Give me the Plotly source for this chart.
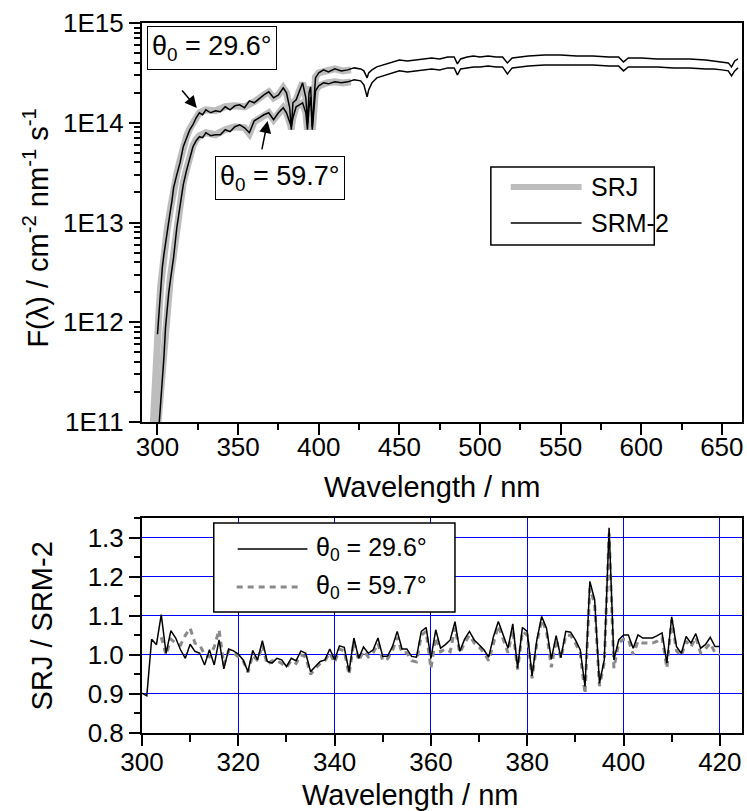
import numpy as np
import plotly.graph_objects as go

# ---- top panel: spectral irradiance as log10(F) ----
wl = [300, 301, 302, 303, 304, 305, 306, 307, 308, 309, 310, 312, 314, 316, 318, 320,
      322, 324, 326, 328, 330, 333, 336, 339, 342, 345, 348, 351, 354, 357, 360, 363,
      366, 369, 372, 375, 378, 380, 382, 383, 384, 386, 388, 390, 392, 393, 394, 395,
      396, 397, 398, 400, 403, 406, 410, 414, 418, 422, 426, 428, 430, 431, 433, 436,
      440, 445, 450, 455, 460, 465, 470, 475, 480, 484, 486, 488, 492, 496, 500, 505,
      510, 514, 517, 520, 525, 530, 540, 550, 560, 570, 580, 586, 589, 592, 600, 610,
      620, 630, 640, 645, 650, 654, 656, 658, 660]

srm2_296_log = [11.88, 12.10, 12.35, 12.55, 12.68, 12.80, 12.92, 13.02, 13.12, 13.22, 13.35,
                13.48, 13.60, 13.76, 13.85, 13.93, 13.98, 14.05, 14.10, 14.08, 14.13, 14.10,
                14.12, 14.11, 14.16, 14.13, 14.17, 14.18, 14.15, 14.22, 14.20, 14.24, 14.28,
                14.31, 14.25, 14.28, 14.35, 14.30, 14.15, 13.93, 14.20, 14.23, 14.32, 14.40,
                14.25, 14.00, 14.30, 14.36, 13.96, 14.20, 14.45, 14.50, 14.53, 14.51, 14.54,
                14.52, 14.53, 14.55, 14.54, 14.52, 14.45, 14.50, 14.53, 14.56, 14.58, 14.60,
                14.63, 14.62, 14.63, 14.64, 14.65, 14.64, 14.66, 14.66, 14.59, 14.64, 14.66,
                14.67, 14.66, 14.67, 14.66, 14.66, 14.60, 14.65, 14.66, 14.67, 14.68, 14.68,
                14.67, 14.67, 14.66, 14.66, 14.61, 14.65, 14.65, 14.64, 14.64, 14.64, 14.63,
                14.62, 14.61, 14.60, 14.56, 14.62, 14.64]

srm2_597_log = [10.75, 10.98, 11.20, 11.38, 11.65, 11.95, 12.15, 12.30, 12.42, 12.53, 12.65,
                12.95, 13.15, 13.38, 13.52, 13.65, 13.76, 13.82, 13.86, 13.85, 13.90, 13.87,
                13.88, 13.88, 13.93, 13.91, 13.96, 13.98, 13.95, 13.90, 14.02, 14.05, 14.08,
                14.10, 14.03, 14.10, 14.15, 14.10, 14.00, 13.96, 14.05, 14.16, 14.18, 14.20,
                14.10, 13.93, 14.15, 14.26, 13.93, 14.10, 14.32, 14.37, 14.40, 14.39, 14.41,
                14.40, 14.41, 14.43, 14.42, 14.38, 14.26, 14.33, 14.40, 14.45, 14.47, 14.49,
                14.52, 14.51, 14.52, 14.53, 14.54, 14.53, 14.55, 14.55, 14.48, 14.54, 14.55,
                14.56, 14.56, 14.57, 14.56, 14.56, 14.49, 14.55, 14.56, 14.57, 14.58, 14.58,
                14.58, 14.58, 14.57, 14.57, 14.52, 14.56, 14.56, 14.56, 14.55, 14.55, 14.54,
                14.54, 14.53, 14.52, 14.47, 14.52, 14.55]

wl_srj_296 = [297, 298, 299, 300, 301, 302, 304, 306, 308, 310, 312, 314, 316, 318, 320,
              322, 324, 326, 330, 336, 342, 348, 354, 360, 366, 369, 372, 375, 378, 380,
              382, 383, 384, 386, 388, 390, 392, 393, 394, 395, 396, 397, 398, 400, 405,
              410, 415, 420]
srj_296_log = [10.85, 11.25, 11.60, 11.90, 12.12, 12.36, 12.70, 12.93, 13.13, 13.36, 13.49,
               13.62, 13.77, 13.86, 13.94, 13.99, 14.06, 14.10, 14.13, 14.12, 14.16, 14.17,
               14.16, 14.21, 14.28, 14.31, 14.25, 14.28, 14.35, 14.30, 14.15, 13.93, 14.20,
               14.23, 14.32, 14.40, 14.25, 13.98, 14.30, 14.36, 13.93, 14.20, 14.46, 14.50,
               14.52, 14.54, 14.52, 14.53]

wl_srj_597 = [298, 299, 300, 301, 302, 303, 304, 306, 308, 310, 312, 314, 316, 318, 320,
              322, 324, 326, 330, 336, 342, 348, 354, 357, 360, 366, 369, 372, 375, 378,
              380, 382, 383, 384, 386, 388, 390, 392, 393, 394, 395, 396, 397, 398, 400,
              405, 410, 415, 420]
srj_597_log = [10.55, 10.75, 10.95, 11.15, 11.35, 11.50, 11.72, 12.18, 12.45, 12.68, 12.97,
               13.17, 13.40, 13.53, 13.66, 13.77, 13.83, 13.87, 13.90, 13.88, 13.93, 13.96,
               13.95, 13.89, 14.01, 14.08, 14.10, 14.03, 14.10, 14.15, 14.10, 14.00, 13.96,
               14.05, 14.16, 14.18, 14.20, 14.10, 13.93, 14.15, 14.26, 13.93, 14.10, 14.32,
               14.37, 14.40, 14.41, 14.40, 14.41]

y_tickvals = [1e11, 1e12, 1e13, 1e14, 1e15]
y_ticktext = ["1E11", "1E12", "1E13", "1E14", "1E15"]

# ---- bottom panel: ratio SRJ / SRM-2, 1 nm steps ----
ratio_wl_296 = list(range(300, 421))
ratio_296 = [0.902, 0.895, 1.040, 1.026, 1.103, 1.004, 1.062, 1.043, 1.013, 0.991,
             1.027, 1.009, 1.004, 0.974, 1.013, 0.974, 1.038, 0.964, 1.015, 1.010,
             1.002, 0.987, 0.957, 1.011, 0.987, 1.036, 0.983, 0.979, 0.991, 0.987,
             0.970, 0.991, 0.985, 1.010, 1.004, 0.957, 0.970, 0.983, 0.987, 1.015,
             0.987, 1.023, 1.019, 0.957, 1.043, 0.991, 1.020, 1.004, 1.013, 1.043,
             0.996, 0.997, 1.021, 1.060, 1.015, 1.015, 0.996, 0.994, 1.060, 1.070,
             0.991, 1.064, 1.017, 1.026, 1.038, 1.085, 1.009, 1.040, 1.060, 1.038,
             1.026, 1.013, 0.994, 1.047, 1.085, 1.051, 1.017, 1.079, 0.966, 1.070,
             1.060, 0.946, 1.038, 1.098, 1.068, 0.989, 1.049, 0.993, 1.060, 1.058,
             1.038, 1.013, 0.919, 1.188, 1.141, 0.927, 0.987, 1.325, 0.987, 1.038,
             1.051, 1.051, 1.017, 1.051, 1.043, 1.043, 1.043, 1.049, 1.056, 0.979,
             1.097, 1.021, 1.004, 1.047, 1.030, 1.054, 1.017, 1.026, 1.045, 1.021,
             1.021]

ratio_wl_597 = list(range(304, 421))
ratio_597 = [1.045, 1.000, 1.040, 1.030, 1.025, 1.050, 1.068, 1.030, 1.025, 1.000,
             0.995, 1.020, 1.064, 0.975, 1.010, 1.005, 0.995, 0.985, 0.955, 1.000,
             0.985, 1.025, 0.975, 0.985, 0.985, 0.978, 0.968, 0.985, 0.978, 1.000,
             0.995, 0.950, 0.965, 0.978, 0.985, 1.005, 0.980, 1.015, 1.010, 0.949,
             1.035, 0.985, 1.010, 0.995, 1.005, 1.030, 0.985, 0.990, 1.010, 1.045,
             1.005, 1.005, 0.985, 0.982, 1.050, 1.060, 0.965, 1.045, 1.008, 1.015,
             1.008, 1.070, 1.005, 1.030, 1.050, 1.030, 1.020, 1.005, 0.985, 1.030,
             1.075, 1.040, 1.005, 1.065, 0.962, 1.060, 1.050, 0.940, 1.030, 1.090,
             1.060, 0.968, 1.040, 0.990, 1.050, 1.050, 1.030, 1.005, 0.900, 1.170,
             1.130, 0.920, 0.980, 1.310, 0.966, 1.030, 1.040, 1.040, 1.000, 1.035,
             1.030, 1.030, 1.030, 1.035, 1.045, 0.966, 1.090, 1.010, 0.997, 1.035,
             1.020, 1.045, 1.005, 1.015, 1.030, 1.005, 1.000]

FONT = "Liberation Sans, Arial, sans-serif"
SRJ_GREY = "#bdbdbd"
DOT_GREY = "#8a8a8a"
GRID_BLUE = "#0000ff"

fig = go.Figure()

# SRJ (thick grey) first so SRM-2 sits on top
fig.add_trace(go.Scatter(x=wl_srj_296, y=10 ** np.array(srj_296_log), mode="lines",
                         line=dict(color=SRJ_GREY, width=7), xaxis="x", yaxis="y"))
fig.add_trace(go.Scatter(x=wl_srj_597, y=10 ** np.array(srj_597_log), mode="lines",
                         line=dict(color=SRJ_GREY, width=7), xaxis="x", yaxis="y"))
fig.add_trace(go.Scatter(x=wl, y=10 ** np.array(srm2_296_log), mode="lines",
                         line=dict(color="black", width=1.5), xaxis="x", yaxis="y"))
fig.add_trace(go.Scatter(x=wl, y=10 ** np.array(srm2_597_log), mode="lines",
                         line=dict(color="black", width=1.5), xaxis="x", yaxis="y"))

fig.add_trace(go.Scatter(x=ratio_wl_597, y=ratio_597, mode="lines",
                         line=dict(color=DOT_GREY, width=3, dash="6px,5px"),
                         xaxis="x2", yaxis="y2"))
fig.add_trace(go.Scatter(x=ratio_wl_296, y=ratio_296, mode="lines",
                         line=dict(color="black", width=1.5), xaxis="x2", yaxis="y2"))

axis_common = dict(showline=True, linecolor="black", linewidth=2, mirror=True,
                   ticks="outside", ticklen=11, tickwidth=1.5, tickcolor="black",
                   tickfont=dict(size=26, color="black", family=FONT), zeroline=False)

fig.update_layout(
    width=747, height=811,
    margin=dict(l=142, r=3, t=23, b=78),
    paper_bgcolor="white", plot_bgcolor="white",
    showlegend=False,
    font=dict(family=FONT, color="black"),
    xaxis=dict(axis_common, domain=[0, 1], anchor="y", range=[290.4, 662.5],
               tick0=300, dtick=50, showgrid=False, ticklabelstandoff=-10,
               minor=dict(ticks="outside", ticklen=6, tickwidth=1.5, tickcolor="black",
                          dtick=25, tick0=300, showgrid=False)),
    yaxis=dict(axis_common, domain=[0.438, 1], anchor="x", type="log", range=[11, 15],
               tickmode="array", tickvals=y_tickvals, ticktext=y_ticktext,
               showgrid=False,
               minor=dict(ticks="outside", ticklen=6, tickwidth=1.5, tickcolor="black",
                          dtick="D1", showgrid=False)),
    xaxis2=dict(axis_common, domain=[0, 1], anchor="y2", range=[300, 424.6],
                tick0=300, dtick=20, showgrid=True, gridcolor=GRID_BLUE, gridwidth=1,
                ticklabelstandoff=-6,
                minor=dict(ticks="outside", ticklen=7, tickwidth=1.5, tickcolor="black",
                           dtick=10, tick0=300, showgrid=False)),
    yaxis2=dict(axis_common, domain=[0, 0.3028], anchor="x2", range=[0.8, 1.35],
                tick0=0.8, dtick=0.1, tickformat=".1f", showgrid=True,
                gridcolor=GRID_BLUE, gridwidth=1,
                minor=dict(ticks="outside", ticklen=6, tickwidth=1.5, tickcolor="black",
                           dtick=0.05, tick0=0.8, showgrid=False)),
)

title_font = dict(size=29, color="black", family=FONT)
ann = [
    dict(text="Wavelength / nm", xref="paper", yref="paper", x=0.4834, y=0.3465,
         showarrow=False, font=title_font, xanchor="center", yanchor="middle"),
    dict(text="Wavelength / nm", xref="paper", yref="paper", x=0.4468, y=-0.0873,
         showarrow=False, font=title_font, xanchor="center", yanchor="middle"),
    dict(text="F(\u03bb) / cm<sup>-2</sup> nm<sup>-1</sup> s<sup>-1</sup>",
         xref="paper", yref="paper", x=-0.176, y=0.711, textangle=-90,
         showarrow=False, font=title_font, xanchor="center", yanchor="middle"),
    dict(text="SRJ / SRM-2", xref="paper", yref="paper", x=-0.166, y=0.1507,
         textangle=-90, showarrow=False, font=title_font,
         xanchor="center", yanchor="middle"),
    # boxed labels and arrows in the top panel
    dict(text="\u03b8<sub>0</sub> = 29.6\u00b0", xref="paper", yref="paper",
         x=0.1163, y=0.9648, showarrow=False, xanchor="center", yanchor="middle",
         font=dict(size=27, color="black", family=FONT), bgcolor="white",
         bordercolor="black", borderwidth=1, borderpad=4),
    dict(text="\u03b8<sub>0</sub> = 59.7\u00b0", xref="paper", yref="paper",
         x=0.2292, y=0.7817, showarrow=False, xanchor="center", yanchor="middle",
         font=dict(size=27, color="black", family=FONT), bgcolor="white",
         bordercolor="black", borderwidth=1, borderpad=4),
    dict(text="", xref="x", yref="y", x=324.4, y=14.148, ax=-16, ay=-19,
         showarrow=True, arrowhead=2, arrowsize=1.6, arrowwidth=1.5, arrowcolor="black"),
    dict(text="", xref="x", yref="y", x=368.3, y=14.018, ax=-6, ay=30,
         showarrow=True, arrowhead=2, arrowsize=1.6, arrowwidth=1.5, arrowcolor="black"),
    # legend texts
    dict(text="SRJ", xref="paper", yref="paper", x=0.7442, y=0.7690, showarrow=False,
         xanchor="left", yanchor="middle", font=dict(size=25, color="black", family=FONT)),
    dict(text="SRM-2", xref="paper", yref="paper", x=0.7442, y=0.7183, showarrow=False,
         xanchor="left", yanchor="middle", font=dict(size=25, color="black", family=FONT)),
    dict(text="\u03b8<sub>0</sub> = 29.6\u00b0", xref="paper", yref="paper", x=0.2874,
         y=0.2592, showarrow=False, xanchor="left", yanchor="middle",
         font=dict(size=25, color="black", family=FONT)),
    dict(text="\u03b8<sub>0</sub> = 59.7\u00b0", xref="paper", yref="paper", x=0.2874,
         y=0.2056, showarrow=False, xanchor="left", yanchor="middle",
         font=dict(size=25, color="black", family=FONT)),
]
fig.update_layout(annotations=ann)

# hand-drawn legend boxes (long sample lines, like the original)
shapes = [
    dict(type="rect", xref="paper", yref="paper", x0=0.5814, x1=0.8538, y0=0.6873,
         y1=0.7972, line=dict(color="black", width=1.5), fillcolor="white", layer="above"),
    dict(type="line", xref="paper", yref="paper", x0=0.6146, x1=0.7326, y0=0.7690,
         y1=0.7690, line=dict(color=SRJ_GREY, width=6), layer="above"),
    dict(type="line", xref="paper", yref="paper", x0=0.6146, x1=0.7326, y0=0.7183,
         y1=0.7183, line=dict(color="black", width=1.5), layer="above"),
    dict(type="rect", xref="paper", yref="paper", x0=0.1196, x1=0.5216, y0=0.1704,
         y1=0.2958, line=dict(color="black", width=1.5), fillcolor="white", layer="above"),
    dict(type="line", xref="paper", yref="paper", x0=0.1595, x1=0.2757, y0=0.2592,
         y1=0.2592, line=dict(color="black", width=1.5), layer="above"),
    dict(type="line", xref="paper", yref="paper", x0=0.1578, x1=0.2674, y0=0.2056,
         y1=0.2056, line=dict(color=DOT_GREY, width=3, dash="6px,5px"), layer="above"),
]
fig.update_layout(shapes=shapes)

# drop the default page margin so the 747x811 figure fills the window exactly
page_fix = ("document.body.style.margin='0';"
            "document.documentElement.style.overflow='hidden';"
            "document.body.style.overflow='hidden';")
fig.write_html("out.html", post_script=page_fix, config={"displayModeBar": False})
